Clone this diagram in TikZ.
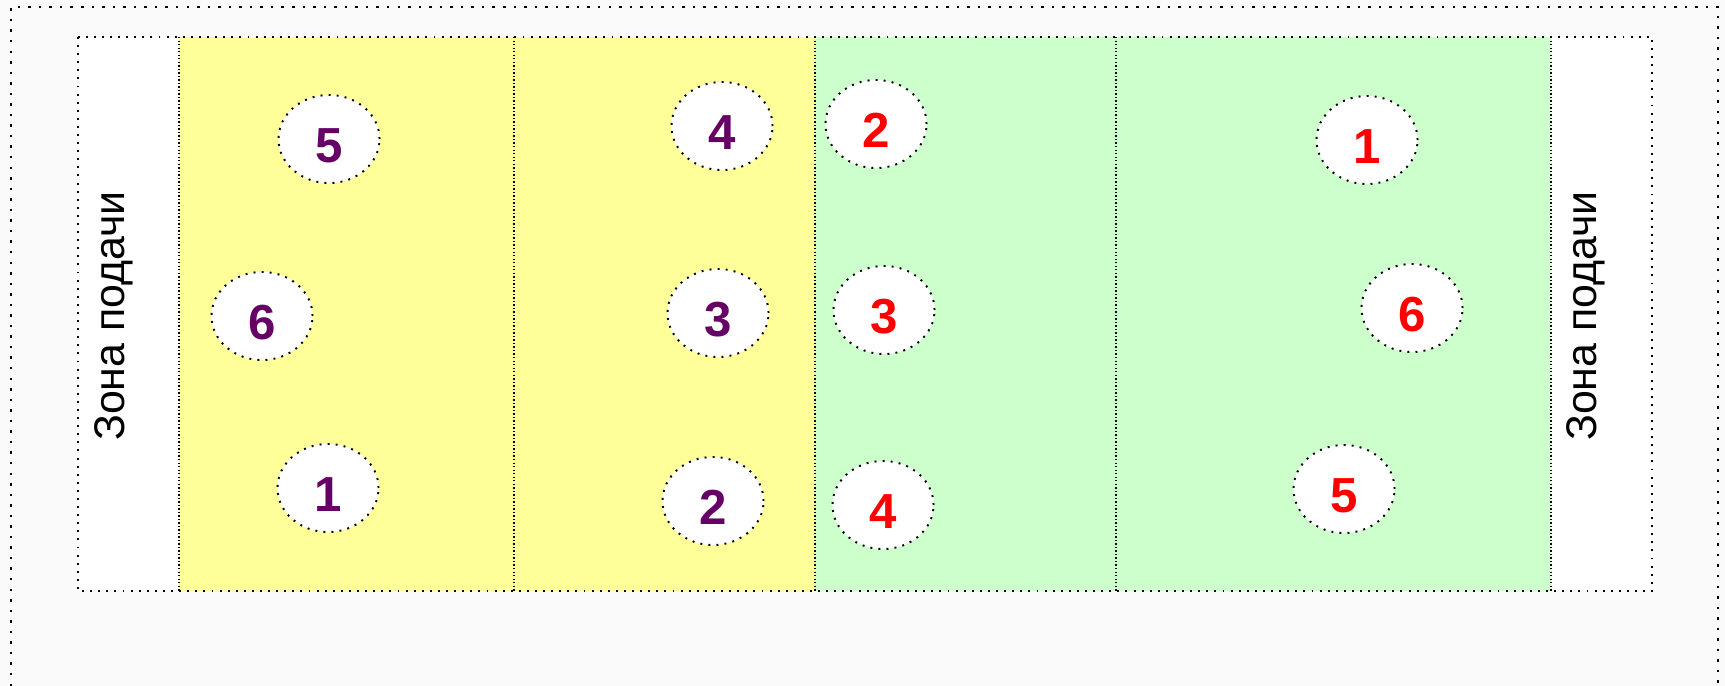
\documentclass[tikz,border=0pt]{standalone}
\usepackage{fontspec,xcolor,tikz}
\setmainfont{Liberation Sans}
\usetikzlibrary{shapes.geometric}
\definecolor{bggray}{HTML}{FAFAFA}
\definecolor{courtyellow}{HTML}{FFFF99}
\definecolor{courtgreen}{HTML}{CCFFCC}
\definecolor{teamplum}{HTML}{660066}

\begin{document}
\begin{tikzpicture}[x=0.01cm, y=-0.01cm,
    frameline/.style={line width=0.7pt, dash pattern=on 0.7pt off 2.3pt},
    courtline/.style={line width=0.55pt, dash pattern=on 0.55pt off 1.75pt},
    netline/.style={line width=0.4pt, dash pattern=on 0.4pt off 0.6pt},
    player/.style={ellipse, draw, fill=white, courtline, minimum width=1.01cm,
      minimum height=0.88cm, inner sep=0pt, text height=0.47cm,
      font=\fontsize{14}{14}\selectfont\bfseries},
    home/.style={player, text=teamplum},
    guest/.style={player, text=red},
    zone/.style={rotate=90, font=\fontsize{12.2}{12.2}\selectfont}]
  \useasboundingbox (0,0) rectangle (1725,686);
  \fill[bggray] (0,0) rectangle (1725,686);
  \draw[frameline] (11,686) -- (11,7) -- (1718,7) -- (1718,686);
  % court
  \fill[white] (78,37) rectangle (1652,591);
  \fill[courtyellow] (179,37) rectangle (815,591);
  \fill[courtgreen] (815,37) rectangle (1551,591);
  \draw[netline] (514,37) -- (514,591);
  \draw[netline] (815,37) -- (815,591);
  \draw[netline] (1116,37) -- (1116,591);
  \draw[netline] (179,37) -- (179,591);
  \draw[netline] (1551,37) -- (1551,591);
  \draw[courtline] (78,37) rectangle (1652,591);
  \node[zone] (serveL) at (114,316) {Зона подачи};
  \node[zone] (serveR) at (1586,316) {Зона подачи};
  % left team
  \node[home] (l5) at (329,139) {5};
  \node[home] (l6) at (262,316) {6};
  \node[home] (l1) at (328,488) {1};
  \node[home] (l4) at (722,126) {4};
  \node[home] (l3) at (718,313) {3};
  \node[home] (l2) at (713,501) {2};
  % right team
  \node[guest] (r2) at (876,124) {2};
  \node[guest] (r3) at (884,310) {3};
  \node[guest] (r4) at (883,505) {4};
  \node[guest] (r1) at (1367,140) {1};
  \node[guest] (r6) at (1412,308) {6};
  \node[guest] (r5) at (1344,489) {5};
\end{tikzpicture}
\end{document}
